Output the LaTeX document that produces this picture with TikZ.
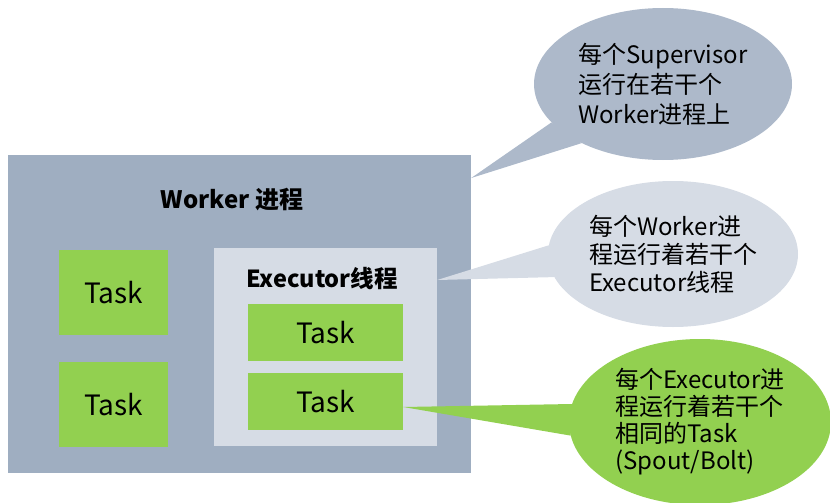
\documentclass[tikz,border=0pt]{standalone}
\usepackage{fontspec}
\setmainfont{Noto Sans CJK SC}
\usepackage{tikz}
\usetikzlibrary{positioning, shapes.geometric}
\definecolor{workerbg}{HTML}{9FAEC1}
\definecolor{execbg}{HTML}{D6DCE5}
\definecolor{taskgreen}{HTML}{92D050}
\definecolor{supbg}{HTML}{ADB9CA}
\definecolor{ink}{HTML}{000000}
\tikzset{
  procbox/.style={rectangle, inner sep=0pt, draw=none},
  taskbox/.style={rectangle, fill=taskgreen, inner sep=0pt, text=ink,
                  font=\fontsize{28}{32}\selectfont},
  boxtitle/.style={inner sep=0pt, text=ink, font=\bfseries\fontsize{23.5}{28}\selectfont},
  bubble/.style={ellipse, inner sep=0pt, align=left, text=ink},
}
\begin{document}
\begin{tikzpicture}[x=1pt, y=-1pt]
  \useasboundingbox (0,0) rectangle (830,503);
  % worker process with its tasks
  \node[procbox, fill=workerbg, minimum width=463, minimum height=318] (worker) at (239.5,314) {};
  \node[boxtitle, font=\bfseries\fontsize{24}{28}\selectfont] (wtitle) at (232,200) {Worker 进程};
  \node[taskbox, minimum width=109, minimum height=85] (task1) at (113.5,292.5) {Task};
  \node[taskbox, minimum width=109, minimum height=85] (task2) at (113.5,404.5) {Task};
  \node[procbox, fill=execbg, minimum width=223, minimum height=198] (exec) at (325.5,347) {};
  \node[boxtitle] (etitle) at (322,279) {Executor线程};
  \node[taskbox, minimum width=155, minimum height=57] (task3) at (325.5,332.5) {Task};
  \node[taskbox, minimum width=155, minimum height=57] (task4) at (325.5,401.5) {Task};
  % callouts
  \coordinate (tip1) at (worker.east |- 0,178);
  \coordinate (tip2) at (exec.east |- 0,280);
  \coordinate (tip3) at (task4.east |- 0,407);
  \node[bubble, fill=supbg, minimum width=258, minimum height=152,
        font=\fontsize{24}{30}\selectfont] (sup) at (663,84)
        {每个Supervisor\\运行在若干个\\Worker进程上};
  \node[bubble, fill=execbg, minimum width=250, minimum height=146,
        font=\fontsize{24}{28}\selectfont] (wnote) at (673,254)
        {每个Worker进\\程运行着若干个\\Executor线程};
  \node[bubble, fill=taskgreen, minimum width=262, minimum height=166,
        font=\fontsize{24}{27}\selectfont] (enote) at (700,422)
        {每个Executor进\\程运行着若干个\\相同的Task\\(Spout/Bolt)};
  \fill[supbg] (tip1) -- (sup.199) -- (sup.216) -- cycle;
  \fill[execbg] (tip2) -- (wnote.176) -- (wnote.191) -- cycle;
  \fill[taskgreen] (tip3) -- (enote.172) -- (enote.186) -- cycle;
\end{tikzpicture}
\end{document}
